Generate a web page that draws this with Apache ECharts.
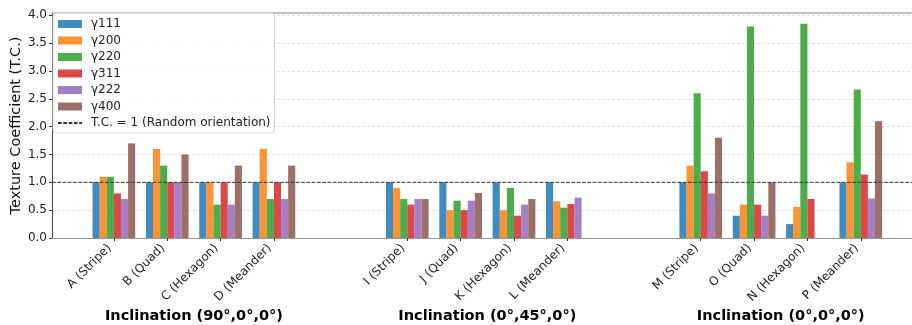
<!DOCTYPE html>
<html>
<head>
<meta charset="utf-8">
<script src="https://cdn.jsdelivr.net/npm/echarts@6/dist/echarts.min.js"></script>
<style>
  html, body { margin: 0; padding: 0; background: #fff; }
  #chart { width: 912px; height: 325px; }
</style>
</head>
<body>
<div id="chart"></div>
<script>
// Samples and their positions along the x axis (three inclination groups)
const samples = ['A (Stripe)', 'B (Quad)', 'C (Hexagon)', 'D (Meander)',
                 'I (Stripe)', 'J (Quad)', 'K (Hexagon)', 'L (Meander)',
                 'M (Stripe)', 'O (Quad)', 'N (Hexagon)', 'P (Meander)'];
const positions = [0, 1, 2, 3, 5.5, 6.5, 7.5, 8.5, 11, 12, 13, 14];

const groupTitles = ['Inclination (90°,0°,0°)', 'Inclination (0°,45°,0°)', 'Inclination (0°,0°,0°)'];
const groupCenters = [1.5, 7, 12.5];

// Texture coefficient per reflection
const seriesNames = ['γ111', 'γ200', 'γ220', 'γ311', 'γ222', 'γ400'];
const g111 = [1.0, 1.0, 1.0, 1.0, 1.0, 1.0, 1.0, 1.0, 1.0, 0.4, 0.25, 1.0];
const g200 = [1.1, 1.6, 1.0, 1.6, 0.9, 0.5, 0.5, 0.66, 1.3, 0.6, 0.56, 1.36];
const g220 = [1.1, 1.3, 0.6, 0.7, 0.7, 0.67, 0.9, 0.545, 2.6, 3.8, 3.85, 2.67];
const g311 = [0.8, 1.0, 1.0, 1.0, 0.6, 0.5, 0.4, 0.61, 1.2, 0.6, 0.7, 1.14];
const g222 = [0.7, 1.0, 0.6, 0.7, 0.7, 0.67, 0.6, 0.725, 0.8, 0.4, null, 0.71];
const g400 = [1.7, 1.5, 1.3, 1.3, 0.7, 0.81, 0.7, null, 1.8, 1.0, null, 2.1];
const seriesValues = [g111, g200, g220, g311, g222, g400];

const randomLevel = 1;
const randomName = 'T.C. = 1 (Random orientation)';
const yTicks = [0, 0.5, 1.0, 1.5, 2.0, 2.5, 3.0, 3.5, 4.0];

const colors = ['#1f77b4', '#ff7f0e', '#2ca02c', '#d62728', '#9467bd', '#8c564b'];
const X_MIN = -1.16, X_MAX = 14.96;
const BAR_W = 0.8 / 6;
const FONT = 'DejaVu Sans';

const chart = echarts.init(document.getElementById('chart'), null, { renderer: 'canvas' });

function barRenderer(k) {
  return function (params, api) {
    const v = api.value(1);
    if (v == null || isNaN(v)) return null;
    const xc = api.value(0) + (k - 2.5) * BAR_W;
    const p0 = api.coord([xc - BAR_W / 2, 0]);
    const p1 = api.coord([xc + BAR_W / 2, v]);
    return {
      type: 'rect',
      shape: { x: p0[0], y: p1[1], width: p1[0] - p0[0], height: p0[1] - p1[1] },
      style: api.style()
    };
  };
}

const barSeries = seriesNames.map((name, k) => ({
  name: name,
  type: 'custom',
  renderItem: barRenderer(k),
  encode: { x: 0, y: 1 },
  itemStyle: { color: colors[k], opacity: 0.85 },
  data: positions.map((p, i) => [p, seriesValues[k][i] == null ? NaN : seriesValues[k][i]]),
  z: 3
}));

const option = {
  animation: false,
  textStyle: { fontFamily: FONT },
  grid: { left: 52, right: 0, top: 13, bottom: 87, containLabel: false, outerBoundsMode: 'none' },
  legend: {
    orient: 'vertical',
    left: 53, top: 13,
    padding: [4, 4, 3, 4],
    itemWidth: 24, itemHeight: 8,
    itemGap: 2.5,
    backgroundColor: 'rgba(255,255,255,0.85)',
    borderColor: '#d6d6d6', borderWidth: 1, borderRadius: 3,
    textStyle: { fontFamily: FONT, fontSize: 12, color: '#222', lineHeight: 14, padding: [0, 0, 0, 4] },
    data: seriesNames.map(n => ({ name: n, icon: 'rect' })).concat([{
      name: randomName,
      itemStyle: { opacity: 0, color: 'transparent', borderWidth: 0 }
    }])
  },
  xAxis: [{
    type: 'value', min: X_MIN, max: X_MAX,
    axisLine: { show: true, onZero: false, lineStyle: { color: '#999', width: 1.2 } },
    axisTick: { show: true, length: 3, customValues: positions, lineStyle: { color: '#333' } },
    axisLabel: {
      customValues: positions,
      rotate: 45, margin: 4, padding: [0, 6, 0, 0],
      fontFamily: FONT, fontSize: 12, color: '#222',
      formatter: v => { const i = positions.indexOf(v); return i >= 0 ? samples[i] : ''; }
    },
    splitLine: { show: false }
  }, {
    type: 'value', min: X_MIN, max: X_MAX, position: 'top',
    axisLine: { show: true, onZero: false, lineStyle: { color: '#aaa', width: 1.5 } },
    axisTick: { show: false }, axisLabel: { show: false }, splitLine: { show: false }
  }],
  yAxis: {
    type: 'value', min: 0, max: 4.0425,
    name: 'Texture Coefficient (T.C.)',
    nameLocation: 'middle', nameGap: 28, nameMoveOverlap: false,
    nameTextStyle: { fontFamily: FONT, fontSize: 14.5, color: '#111' },
    axisLine: { show: true, onZero: false, lineStyle: { color: '#444', width: 1 } },
    axisTick: { show: true, length: 3, customValues: yTicks, lineStyle: { color: '#333' } },
    axisLabel: {
      customValues: yTicks, margin: 5,
      fontFamily: FONT, fontSize: 12, color: '#222',
      formatter: v => v.toFixed(1)
    },
    splitLine: { show: true, lineStyle: { color: '#e2e2e2', type: [3, 2], width: 1 } }
  },
  series: barSeries.concat([{
    name: randomName,
    type: 'line',
    data: [[X_MIN, randomLevel], [X_MAX, randomLevel]],
    symbol: 'none', silent: true,
    lineStyle: { color: '#333', width: 1, type: [3.7, 1.6] },
    itemStyle: { color: '#333' },
    z: 5
  }])
};

chart.setOption(option);

// Group titles centred under each set of samples
chart.setOption({
  graphic: groupTitles.map((t, i) => ({
    type: 'text',
    x: chart.convertToPixel({ xAxisIndex: 0 }, groupCenters[i]),
    y: 316,
    style: {
      text: t, fontFamily: FONT, fontSize: 14.5, fontWeight: 'bold', fill: '#000',
      align: 'center', verticalAlign: 'middle'
    }
  }))
});
</script>
</body>
</html>
